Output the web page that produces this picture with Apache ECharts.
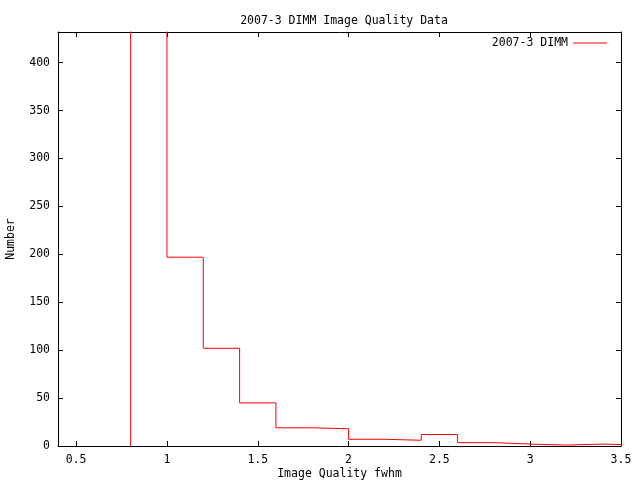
<!DOCTYPE html>
<html>
<head>
<meta charset="utf-8">
<script src="https://cdn.jsdelivr.net/npm/echarts@6/dist/echarts.min.js"></script>
<style>html,body{margin:0;padding:0;background:#fff}#c{width:640px;height:480px}</style>
</head>
<body>
<div id="c"></div>
<script>
// Histogram bin left edges and counts (bin width 0.2)
var binEdges = [0.8, 1.0, 1.2, 1.4, 1.6, 1.8, 2.0, 2.2, 2.4, 2.6, 2.8, 3.0, 3.2, 3.4, 3.6];
var counts   = [700, 197, 102, 45, 19, 18, 7, 6, 12, 3.5, 2, 1, 2, 1, 1];
var xTicks = [0.5, 1, 1.5, 2, 2.5, 3, 3.5];
var yTicks = [0, 50, 100, 150, 200, 250, 300, 350, 400];
var seriesName = '2007-3 DIMM';
var titleText = '2007-3 DIMM Image Quality Data';
var xName = 'Image Quality fwhm';
var yName = 'Number';

// start the outline at the baseline of the first bin edge
var data = [[binEdges[0], 0]].concat(binEdges.map(function (e, i) { return [e, counts[i]]; }));
var font = 'DejaVu Sans Mono';
var axisLine = { show: true, onZero: false, lineStyle: { color: '#000', width: 1 } };
var tick = { show: true, inside: true, length: 5, lineStyle: { color: '#000' } };

var chart = echarts.init(document.getElementById('c'), null, { renderer: 'canvas' });
chart.setOption({
  animation: false,
  backgroundColor: '#fff',
  title: {
    text: titleText, left: 339, top: 10, textAlign: 'center',
    textStyle: { fontFamily: font, fontSize: 11.5, fontWeight: 'normal', color: '#000' }
  },
  legend: {
    right: 33, top: 37, padding: 0, align: 'right', icon: 'rect', itemWidth: 34, itemHeight: 1,
    textStyle: { fontFamily: font, fontSize: 11.5, color: '#000' },
    data: [seriesName]
  },
  grid: { left: 58, right: 19, top: 32, bottom: 34, containLabel: false, outerBoundsMode: 'none' },
  xAxis: [{
    type: 'value', min: 0.4, max: 3.5, position: 'bottom',
    name: xName, nameLocation: 'middle', nameGap: 22, nameMoveOverlap: false,
    nameTextStyle: { fontFamily: font, fontSize: 11.5, color: '#000' },
    axisLine: axisLine,
    axisTick: Object.assign({ customValues: xTicks }, tick),
    axisLabel: { customValues: xTicks, fontFamily: font, fontSize: 11.5, color: '#000', margin: 8 },
    splitLine: { show: false }
  }, {
    type: 'value', min: 0.4, max: 3.5, position: 'top',
    axisLine: axisLine,
    axisTick: Object.assign({ customValues: xTicks }, tick),
    axisLabel: { show: false },
    splitLine: { show: false }
  }],
  yAxis: [{
    type: 'value', min: 0, max: 432, interval: 50, position: 'left',
    name: yName, nameLocation: 'middle', nameRotate: 90, nameGap: 41, nameMoveOverlap: false,
    nameTextStyle: { fontFamily: font, fontSize: 11.5, color: '#000' },
    axisLine: axisLine,
    axisTick: Object.assign({ customValues: yTicks }, tick),
    axisLabel: { customValues: yTicks, fontFamily: font, fontSize: 11.5, color: '#000', margin: 8 },
    splitLine: { show: false }
  }, {
    type: 'value', min: 0, max: 432, interval: 50, position: 'right',
    axisLine: axisLine,
    axisTick: Object.assign({ customValues: yTicks }, tick),
    axisLabel: { show: false },
    splitLine: { show: false }
  }],
  series: [{
    name: seriesName, type: 'line', step: 'end', data: data,
    xAxisIndex: 0, yAxisIndex: 0,
    showSymbol: false, symbol: 'none', clip: true,
    lineStyle: { color: '#ff0000', width: 1 },
    itemStyle: { color: '#ff0000' }
  }]
});
</script>
</body>
</html>
